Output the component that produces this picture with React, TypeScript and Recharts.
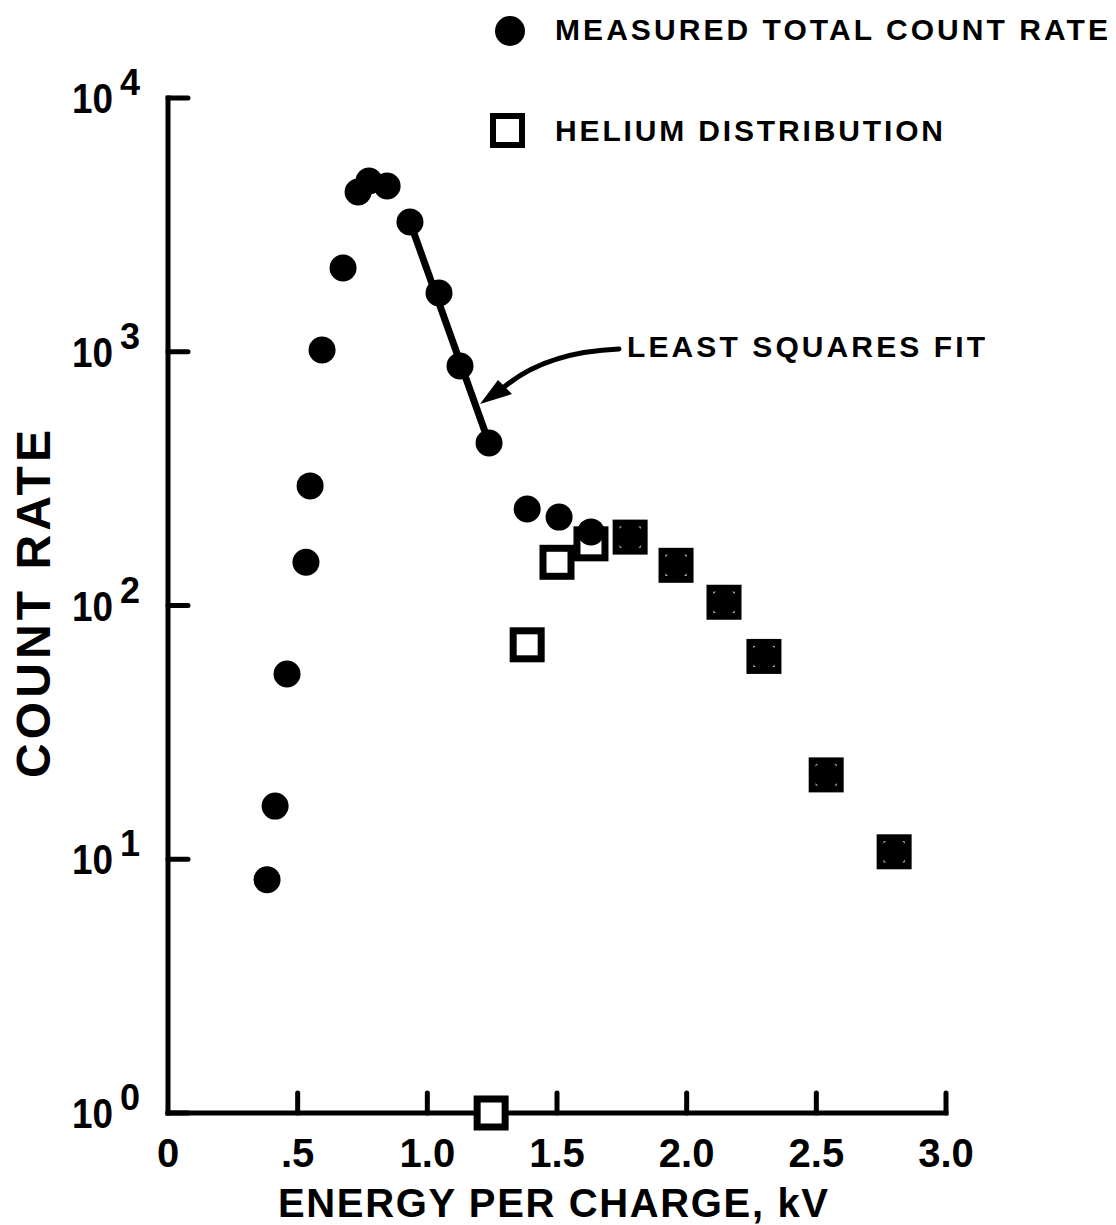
import React from 'react';
import { ScatterChart, Scatter, XAxis, YAxis } from 'recharts';

// ---- data ----
const totalEnergy = [0.382, 0.413, 0.459, 0.532, 0.548, 0.594, 0.675, 0.733, 0.775, 0.845, 0.933, 1.045, 1.126, 1.238, 1.385, 1.508, 1.631, 1.782, 1.959, 2.144, 2.298, 2.538, 2.8];
const totalRate = [8.3, 16.2, 53.7, 148, 296, 1016, 2138, 4264, 4710, 4500, 3247, 1705, 879, 437, 240, 223, 195, 186, 144, 103, 63, 21.5, 10.7];
const heliumEnergy = [1.246, 1.385, 1.5, 1.631, 1.782, 1.959, 2.144, 2.298, 2.538, 2.8];
const heliumRate = [1, 70, 148, 175, 186, 144, 103, 63, 21.5, 10.7];
const fitEnergy = [0.933, 1.238];
const fitRate = [3247, 437];
const xTicks = [0, 0.5, 1, 1.5, 2, 2.5, 3];
const xTickLabels = ['0', '.5', '1.0', '1.5', '2.0', '2.5', '3.0'];
const yTicks = [1, 10, 100, 1000, 10000];
const yTickExponents = ['0', '1', '2', '3', '4'];
const legendLabels = ['MEASURED TOTAL COUNT RATE', 'HELIUM DISTRIBUTION'];
const annotationLabel = 'LEAST SQUARES FIT';
const xTitle = 'ENERGY PER CHARGE, kV';
const yTitle = 'COUNT RATE';

const totalData = totalEnergy.map((e, i) => ({ e, r: totalRate[i] }));
const heliumData = heliumEnergy.map((e, i) => ({ e, r: heliumRate[i] }));
const fitData = fitEnergy.map((e, i) => ({ e, r: fitRate[i] }));

const FONT = '"Liberation Sans", Arial, sans-serif';
const INK = '#000';

const XTick = (props: any) => {
  const { x, y, payload } = props;
  const i = xTicks.indexOf(payload.value);
  return (
    <g>
      {payload.value !== 0 && (
        <line x1={x} y1={y} x2={x} y2={y - 20} stroke={INK} strokeWidth={5} strokeLinecap="round" />
      )}
      <text x={x} y={y + 54} textAnchor="middle" fontSize={40} fontWeight="bold" fontFamily={FONT} fill={INK}>
        {xTickLabels[i]}
      </text>
    </g>
  );
};

const YTick = (props: any) => {
  const { x, y, payload } = props;
  const i = yTicks.indexOf(payload.value);
  return (
    <g>
      <line x1={x} y1={y} x2={x + 20} y2={y} stroke={INK} strokeWidth={5} strokeLinecap="round" />
      <text
        x={x - 96}
        y={y + 15}
        textAnchor="start"
        fontSize={42}
        fontWeight="bold"
        fontFamily={FONT}
        fill={INK}
        textLength={41}
        lengthAdjust="spacingAndGlyphs"
      >
        10
      </text>
      <text x={x - 48} y={y - 3} textAnchor="start" fontSize={36} fontWeight="bold" fontFamily={FONT} fill={INK}>
        {yTickExponents[i]}
      </text>
    </g>
  );
};

const CircleShape = (props: any) => {
  const { cx, cy } = props;
  return <circle cx={cx} cy={cy} r={13.5} fill={INK} />;
};

const SquareShape = (props: any) => {
  const { cx, cy } = props;
  return <rect x={cx - 14} y={cy - 14} width={28} height={28} fill="#fff" stroke={INK} strokeWidth={7} />;
};

const NoShape = () => <g />;

export default function App() {
  return (
    <div style={{ position: 'absolute', left: 0, top: 0, width: 1116, height: 1225, background: '#fff' }}>
      <ScatterChart width={1116} height={1225} margin={{ top: 98, right: 170, bottom: 0, left: 0 }}>
        <XAxis
          type="number"
          dataKey="e"
          domain={[0, 3]}
          ticks={xTicks}
          interval={0}
          height={112}
          tickSize={0}
          tickMargin={0}
          tickLine={false}
          axisLine={{ stroke: INK, strokeWidth: 5, strokeLinecap: 'square' }}
          tick={<XTick />}
          allowDataOverflow
        />
        <YAxis
          type="number"
          dataKey="r"
          scale="log"
          domain={[1, 10000]}
          ticks={yTicks}
          interval={0}
          width={168}
          tickSize={0}
          tickMargin={0}
          tickLine={false}
          axisLine={{ stroke: INK, strokeWidth: 5, strokeLinecap: 'square' }}
          tick={<YTick />}
        />
        <Scatter data={heliumData} shape={<SquareShape />} isAnimationActive={false} />
        <Scatter data={totalData} shape={<CircleShape />} isAnimationActive={false} />
        <Scatter
          data={fitData}
          shape={<NoShape />}
          line={{ stroke: INK, strokeWidth: 7 }}
          lineType="joint"
          isAnimationActive={false}
        />

        {/* axis titles */}
        <text
          x={278}
          y={1217}
          fontSize={40}
          fontWeight="bold"
          fontFamily={FONT}
          fill={INK}
          textLength={550}
          lengthAdjust="spacing"
        >
          {xTitle}
        </text>
        <text
          transform="translate(50,604) rotate(-90)"
          x={0}
          y={0}
          textAnchor="middle"
          fontSize={48}
          fontWeight="bold"
          fontFamily={FONT}
          fill={INK}
          textLength={348}
          lengthAdjust="spacing"
        >
          {yTitle}
        </text>

        {/* legend */}
        <circle cx={510} cy={31} r={15} fill={INK} />
        <text x={555} y={40} fontSize={30} fontWeight="bold" fontFamily={FONT} fill={INK} textLength={553} lengthAdjust="spacing">
          {legendLabels[0]}
        </text>
        <rect x={493} y={116} width={29} height={29} fill="#fff" stroke={INK} strokeWidth={6} />
        <text x={555} y={141} fontSize={30} fontWeight="bold" fontFamily={FONT} fill={INK} textLength={388} lengthAdjust="spacing">
          {legendLabels[1]}
        </text>

        {/* annotation */}
        <path d="M 619 349 Q 545 352 503 388" fill="none" stroke={INK} strokeWidth={5} strokeLinecap="round" />
        <polygon points="480,404 498,380 512,394" fill={INK} />
        <text x={627} y={357} fontSize={30} fontWeight="bold" fontFamily={FONT} fill={INK} textLength={358} lengthAdjust="spacing">
          {annotationLabel}
        </text>
      </ScatterChart>
    </div>
  );
}
